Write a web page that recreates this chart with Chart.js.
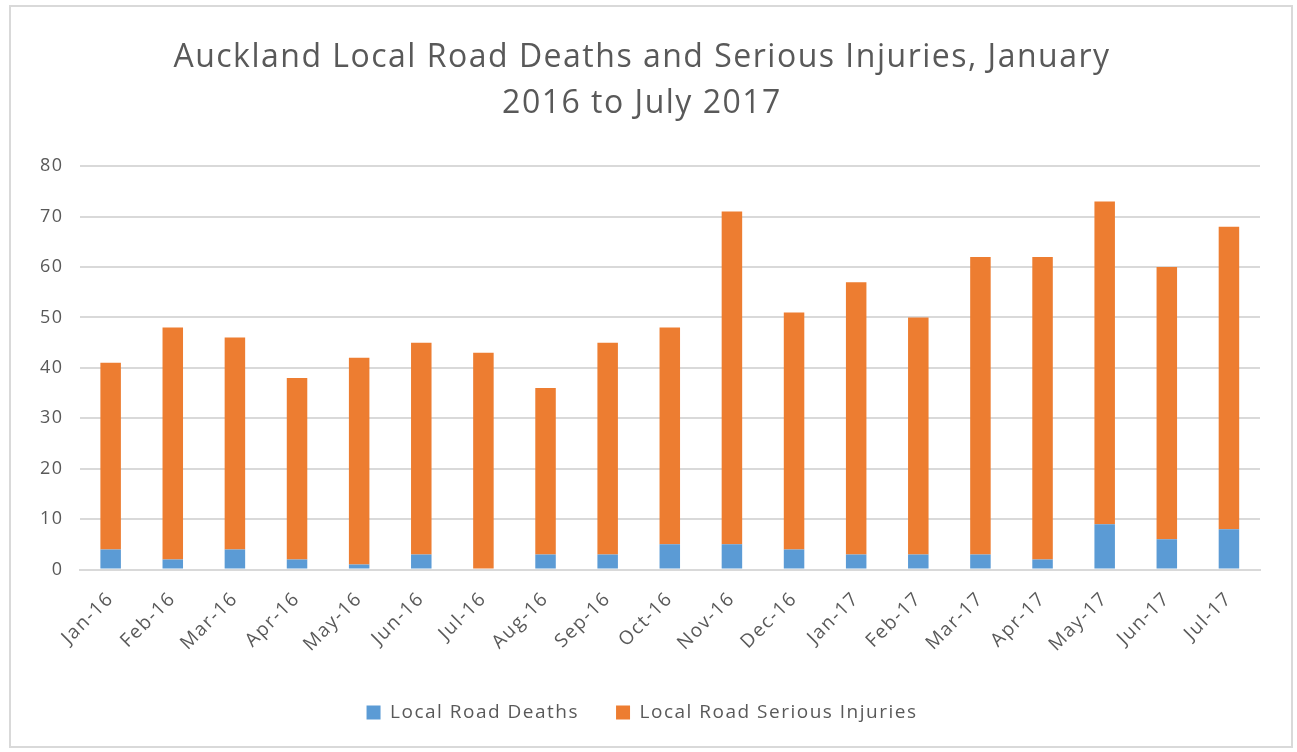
<!DOCTYPE html>
<html>
<head>
<meta charset="utf-8">
<script src="https://cdn.jsdelivr.net/npm/chart.js@4/dist/chart.umd.min.js"></script>
<style>
  html, body { margin: 0; padding: 0; background: #fff; }
  #frame {
    position: absolute; left: 9px; top: 5px;
    width: 1284px; height: 743px;
    border: 2px solid #d9d9d9; box-sizing: border-box;
  }
  #chart { display: block; }
</style>
</head>
<body>
<div id="frame"><canvas id="chart"></canvas></div>
<script>
const titleLines = ["Auckland Local Road Deaths and Serious Injuries, January", "2016 to July 2017"];
const months = ["Jan-16", "Feb-16", "Mar-16", "Apr-16", "May-16", "Jun-16", "Jul-16", "Aug-16", "Sep-16", "Oct-16",
  "Nov-16", "Dec-16", "Jan-17", "Feb-17", "Mar-17", "Apr-17", "May-17", "Jun-17", "Jul-17"];
const roadDeaths = [4, 2, 4, 2, 1, 3, 0, 3, 3, 5, 5, 4, 3, 3, 3, 2, 9, 6, 8];
const seriousInjuries = [37, 46, 42, 36, 41, 42, 43, 33, 42, 43, 66, 47, 54, 47, 59, 60, 64, 54, 60];

const textColor = "#595959";
const fontFamily = "'Open Sans', Lato, sans-serif";

// the original text looks stretched sideways, a bit of letter spacing imitates that
const spacingPlugin = {
  id: "spacing",
  beforeUpdate(chart) { chart.ctx.letterSpacing = "1.5px"; },
  beforeDraw(chart) { chart.ctx.letterSpacing = "1.5px"; },
};

const canvas = document.getElementById("chart");
canvas.width = 1280;
canvas.height = 739;

new Chart(canvas, {
  type: "bar",
  data: {
    labels: months,
    datasets: [
      { label: "Local Road Deaths", data: roadDeaths, backgroundColor: "#5b9bd5" },
      { label: "Local Road Serious Injuries", data: seriousInjuries, backgroundColor: "#ed7d31" },
    ],
  },
  plugins: [spacingPlugin],
  options: {
    responsive: false,
    animation: false,
    barPercentage: 0.33,
    categoryPercentage: 1,
    layout: { padding: { left: 13, right: 31, top: 8, bottom: 14 } },
    plugins: {
      tooltip: { enabled: false },
      title: {
        display: true,
        text: titleLines,
        color: textColor,
        font: { family: fontFamily, size: 32, weight: "normal", lineHeight: 1.44 },
        padding: { top: 20, bottom: 39 },
      },
      legend: {
        position: "bottom",
        labels: {
          color: textColor,
          font: { family: fontFamily, size: 19 },
          boxWidth: 14,
          boxHeight: 14,
          padding: 37,
        },
      },
    },
    scales: {
      x: {
        stacked: true,
        grid: { display: false },
        border: { color: "#d9d9d9", width: 2 },
        ticks: {
          color: textColor,
          font: { family: fontFamily, size: 19 },
          minRotation: 45,
          maxRotation: 45,
          padding: 10,
        },
      },
      y: {
        stacked: true,
        min: 0,
        max: 80,
        grid: { color: "#d9d9d9", lineWidth: 2, drawTicks: false },
        border: { display: false },
        ticks: {
          stepSize: 10,
          color: textColor,
          font: { family: fontFamily, size: 18 },
          padding: 16,
        },
      },
    },
  },
});
</script>
</body>
</html>
